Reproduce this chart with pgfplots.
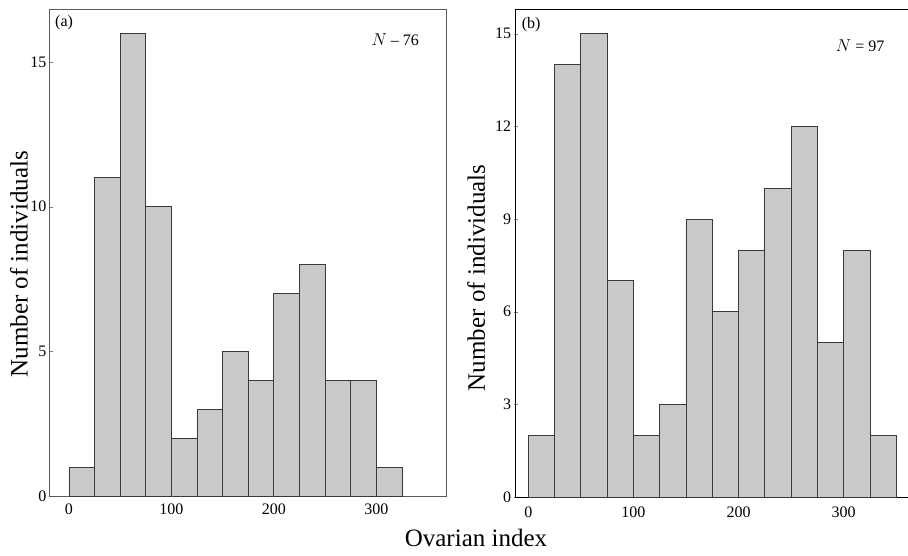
\documentclass[border=0pt]{standalone}
\usepackage{pgfplots}
\pgfplotsset{compat=1.18}
\usepackage{fontspec}
\setmainfont{Liberation Serif}
\definecolor{barfill}{HTML}{C8C9CB}
\definecolor{baredge}{HTML}{3A3A3A}
\definecolor{axgray}{HTML}{5A5A5A}
\begin{document}
\begin{tikzpicture}
\useasboundingbox (0pt,0pt) rectangle (908pt,555pt);
\pgfplotsset{
  hist/.style={
    scale only axis,
    /pgf/number format/assume math mode=true,
    tick label style={font=\fontsize{16}{18}\selectfont},
    xtick={0,100,200,300},
    xtick style={draw=none},
    ymin=0,
    major tick length=4pt,
    ytick pos=left,
    xtick pos=bottom,
    xticklabel style={yshift=-4pt},
    yticklabel style={xshift=1pt},
    label style={font=\fontsize{25}{28}\selectfont},
  }
}
% panel (a)
\begin{axis}[hist,
  at={(49pt,59pt)}, anchor=south west,
  width=397pt, height=487pt,
  xmin=-19.5, xmax=368, ymax=16.83,
  ytick={0,5,10,15},
  tick align=inside,
  axis line style={axgray, line width=0.9pt},
  ylabel={Number of individuals},
  ylabel style={at={(axis description cs:-0.076,0.476)}, anchor=center, rotate=0},
]
\addplot[ybar interval, fill=barfill, draw=baredge, line width=0.8pt]
coordinates {(0,1)(25,11)(50,16)(75,10)(100,2)(125,3)(150,5)(175,4)(200,7)(225,8)(250,4)(275,4)(300,1)(325,1)};
\node[font=\fontsize{16}{18}\selectfont] at (rel axis cs:0.038,0.971) {(a)};
\node[font=\fontsize{16}{18}\selectfont] at (rel axis cs:0.872,0.938) {$N$ – 76};
\end{axis}
% panel (b)
\begin{axis}[hist,
  at={(515.7pt,58pt)}, anchor=south west,
  width=396.3pt, height=488pt,
  xmin=-12, xmax=365, ymax=15.8,
  ytick={0,3,6,9,12,15},
  tick align=center,
  axis line style={black, line width=0.9pt},
  ylabel={Number of individuals},
  ylabel style={at={(axis description cs:-0.10,0.449)}, anchor=center, rotate=0},
]
\addplot[ybar interval, fill=barfill, draw=baredge, line width=0.8pt]
coordinates {(0,2)(25,14)(50,15)(75,7)(100,2)(125,3)(150,9)(175,6)(200,8)(225,10)(250,12)(275,5)(300,8)(325,2)(350,2)};
\node[font=\fontsize{16}{18}\selectfont] at (rel axis cs:0.039,0.967) {(b)};
\node[font=\fontsize{16}{18}\selectfont] at (rel axis cs:0.869,0.924) {$N$ = 97};
\end{axis}
\node[font=\fontsize{25}{28}\selectfont] at (476pt,17pt) {Ovarian index};
\end{tikzpicture}
\end{document}
